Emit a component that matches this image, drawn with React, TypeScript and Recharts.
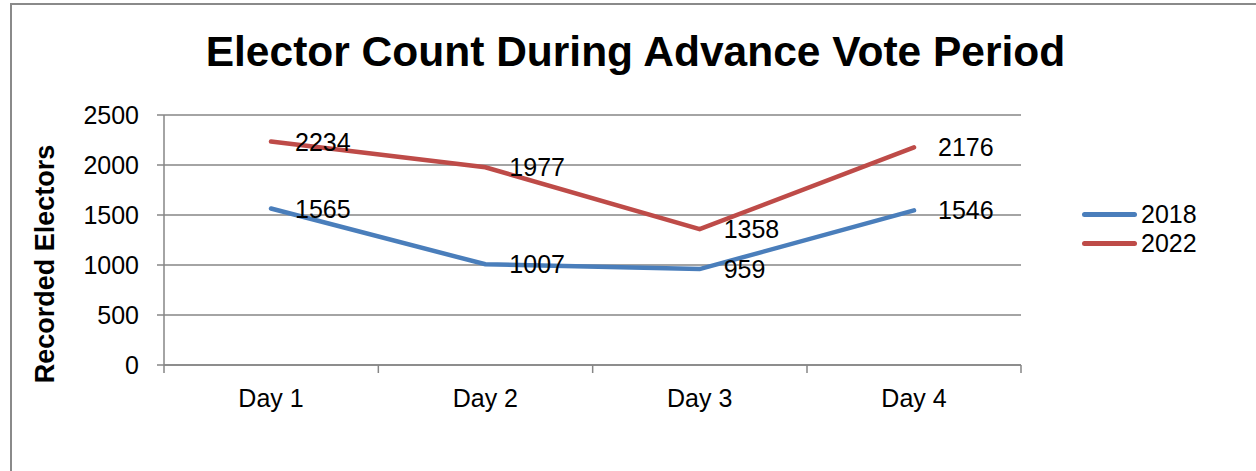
import { LineChart, Line, XAxis, YAxis, CartesianGrid, LabelList } from 'recharts';

const days = ['Day 1', 'Day 2', 'Day 3', 'Day 4'];
const electors2018 = [1565, 1007, 959, 1546];
const electors2022 = [2234, 1977, 1358, 2176];
const yTicks = [0, 500, 1000, 1500, 2000, 2500];

const data = days.map((day, i) => ({ day, y2018: electors2018[i], y2022: electors2022[i] }));

const FONT = '"Liberation Sans", Arial, sans-serif';
const GRID = '#868686';
const BLUE = '#4A7EBB';
const RED = '#BE4B48';
const HALF_BAND = 107;

const DayTick = (props: any) => {
  const { x, y, payload, index } = props;
  const half = payload?.offset || HALF_BAND;
  return (
    <g>
      <line x1={x - half} y1={y - 8} x2={x - half} y2={y} stroke={GRID} strokeWidth={1.5} />
      {index === days.length - 1 && (
        <line x1={x + half} y1={y - 8} x2={x + half} y2={y} stroke={GRID} strokeWidth={1.5} />
      )}
      <text x={x} y={y + 34} textAnchor="middle" fontSize={25} fontFamily={FONT} fill="#000">
        {payload.value}
      </text>
    </g>
  );
};

const ValueLabel = (props: any) => {
  const { x, y, value } = props;
  return (
    <text x={x + 24} y={y} dominantBaseline="central" fontSize={25} fontFamily={FONT} fill="#000">
      {value}
    </text>
  );
};

const legendItems = [
  { name: '2018', color: BLUE },
  { name: '2022', color: RED },
];

export default function App() {
  return (
    <div style={{ position: 'fixed', left: 0, top: 0, width: 1256, height: 471, background: '#fff', overflow: 'hidden' }}>
      <div style={{ position: 'absolute', left: 10, top: 3, right: 0, bottom: 0, borderTop: '2px solid #8a8a8a', borderLeft: '2px solid #8a8a8a' }} />
      <div
        style={{
          position: 'absolute',
          left: 0,
          width: 1271,
          top: 28,
          textAlign: 'center',
          fontFamily: FONT,
          fontWeight: 'bold',
          fontSize: 42.5,
          color: '#000',
        }}
      >
        Elector Count During Advance Vote Period
      </div>
      <div
        style={{
          position: 'absolute',
          left: 45,
          top: 264,
          transform: 'translate(-50%, -50%) rotate(-90deg)',
          whiteSpace: 'nowrap',
          fontFamily: FONT,
          fontWeight: 'bold',
          fontSize: 27,
          color: '#000',
        }}
      >
        Recorded Electors
      </div>
      <div style={{ position: 'absolute', left: 1082, top: 200, fontFamily: FONT, fontSize: 25, color: '#000' }}>
        {legendItems.map((s) => (
          <div key={s.name} style={{ display: 'flex', alignItems: 'center', height: 29 }}>
            <span style={{ width: 55, height: 5, background: s.color, borderRadius: 3, marginRight: 4 }} />
            <span>{s.name}</span>
          </div>
        ))}
      </div>
      <div style={{ position: 'absolute', left: 0, top: 0 }}>
        <LineChart width={1256} height={471} data={data} margin={{ top: 115, right: 235, bottom: 46, left: 84 }}>
          <CartesianGrid vertical={false} stroke={GRID} strokeWidth={1.5} />
          <XAxis
            dataKey="day"
            height={60}
            padding={{ left: HALF_BAND, right: HALF_BAND }}
            axisLine={{ stroke: GRID, strokeWidth: 1.5 }}
            tickLine={false}
            tick={<DayTick />}
            interval={0}
          />
          <YAxis
            width={80}
            domain={[0, 2500]}
            ticks={yTicks}
            interval={0}
            axisLine={{ stroke: GRID, strokeWidth: 1.5 }}
            tickLine={{ stroke: GRID, strokeWidth: 1.5 }}
            tickSize={7}
            tickMargin={18}
            tick={{ fontSize: 25, fontFamily: FONT, fill: '#000' }}
          />
          <Line
            type="linear"
            dataKey="y2018"
            name="2018"
            stroke={BLUE}
            strokeWidth={4.5}
            strokeLinecap="round"
            dot={false}
            activeDot={false}
            isAnimationActive={false}
          >
            <LabelList dataKey="y2018" content={<ValueLabel />} />
          </Line>
          <Line
            type="linear"
            dataKey="y2022"
            name="2022"
            stroke={RED}
            strokeWidth={4.5}
            strokeLinecap="round"
            dot={false}
            activeDot={false}
            isAnimationActive={false}
          >
            <LabelList dataKey="y2022" content={<ValueLabel />} />
          </Line>
        </LineChart>
      </div>
    </div>
  );
}
